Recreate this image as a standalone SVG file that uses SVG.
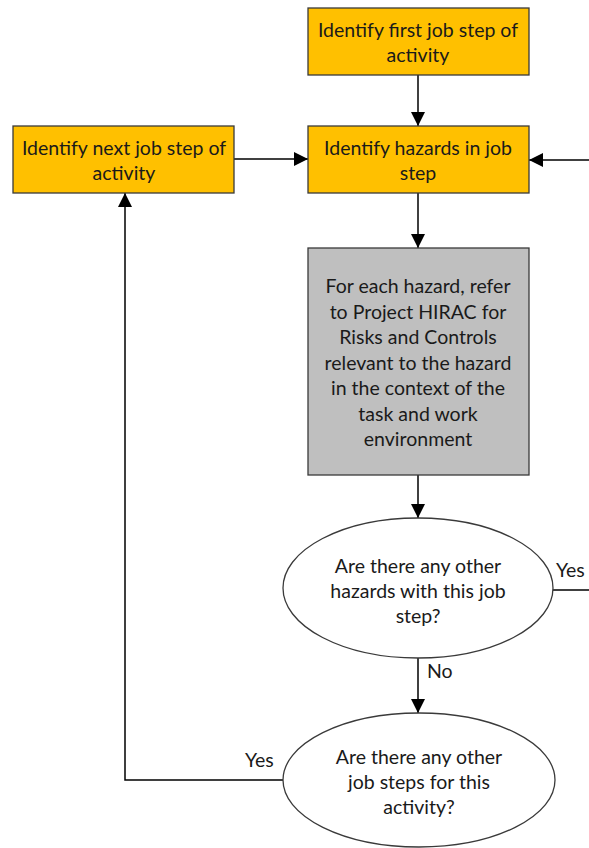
<svg xmlns="http://www.w3.org/2000/svg" width="589" height="848" viewBox="0 0 589 848">
<defs>
<marker id="ah" viewBox="0 0 10 10" refX="10" refY="5" markerWidth="14" markerHeight="14" markerUnits="userSpaceOnUse" orient="auto"><path d="M0,0 L10,5 L0,10 Z" fill="#000"/></marker>
<style>
.box{stroke:#3a3a3a;stroke-width:1.3}
.o{fill:#FFC000}
.g{fill:#BFBFBF}
.e{fill:#fff;stroke:#3a3a3a;stroke-width:1.3}
text{font-family:Lato,"Open Sans",sans-serif;font-size:19.5px;fill:#1a1a1a;text-anchor:middle}
.lbl{text-anchor:start}
.c{fill:none;stroke:#000;stroke-width:1.5}
</style>
</defs>
<rect width="589" height="848" fill="#fff"/>
<g id="connectors">
<line class="c" x1="418" y1="75" x2="418" y2="126" marker-end="url(#ah)"/>
<line class="c" x1="589" y1="160" x2="529" y2="160" marker-end="url(#ah)"/>
<line class="c" x1="234" y1="159" x2="308" y2="159" marker-end="url(#ah)"/>
<line class="c" x1="418" y1="193" x2="418" y2="248" marker-end="url(#ah)"/>
<line class="c" x1="418" y1="475" x2="418" y2="518" marker-end="url(#ah)"/>
<line class="c" x1="553" y1="590" x2="589" y2="590"/>
<line class="c" x1="418" y1="658" x2="418" y2="713" marker-end="url(#ah)"/>
<polyline class="c" points="283,780 125,780 125,193" marker-end="url(#ah)"/>
<text class="lbl" x="556" y="577">Yes</text>
<text class="lbl" x="427" y="678">No</text>
<text class="lbl" x="245" y="767">Yes</text>
</g>
<g id="first">
<rect class="box o" x="308" y="8" width="221" height="67"/>
<text x="418" y="37">Identify first job step of</text>
<text x="418" y="62">activity</text>
</g>
<g id="hazards">
<rect class="box o" x="308" y="126" width="221" height="67"/>
<text x="418" y="155">Identify hazards in job</text>
<text x="418" y="180">step</text>
</g>
<g id="next">
<rect class="box o" x="13" y="126" width="221" height="67"/>
<text x="124" y="155">Identify next job step of</text>
<text x="124" y="180">activity</text>
</g>
<g id="hirac">
<rect class="box g" x="308" y="248" width="221" height="227"/>
<text x="418" y="293">For each hazard, refer</text>
<text x="418" y="319">to Project HIRAC for</text>
<text x="418" y="344">Risks and Controls</text>
<text x="418" y="370">relevant to the hazard</text>
<text x="418" y="395">in the context of the</text>
<text x="418" y="421">task and work</text>
<text x="418" y="446">environment</text>
</g>
<g id="q1">
<ellipse class="e" cx="418" cy="588" rx="135" ry="70"/>
<text x="418" y="573">Are there any other</text>
<text x="418" y="598">hazards with this job</text>
<text x="418" y="623">step?</text>
</g>
<g id="q2">
<ellipse class="e" cx="419" cy="780" rx="136" ry="67"/>
<text x="419" y="764">Are there any other</text>
<text x="419" y="789">job steps for this</text>
<text x="419" y="814">activity?</text>
</g>
</svg>
